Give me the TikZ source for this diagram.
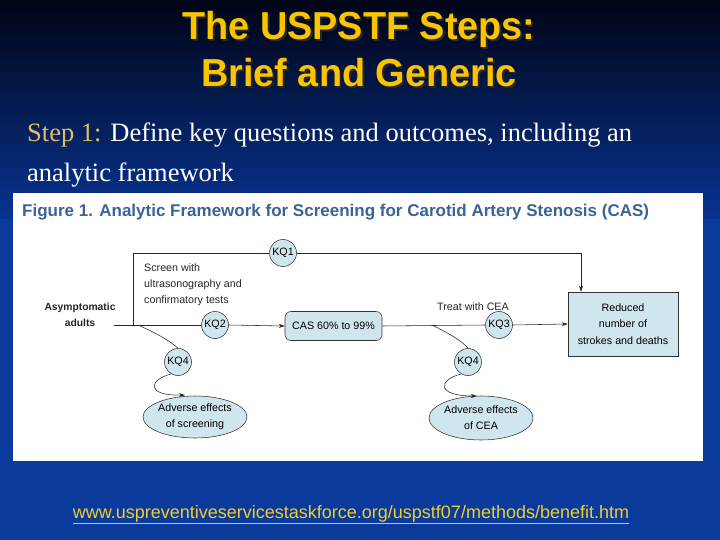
\documentclass[tikz,border=0pt]{standalone}
\usepackage{fontspec}
\setmainfont{Liberation Serif}
\newfontfamily\sansf{Liberation Sans}
\usetikzlibrary{shapes.geometric,arrows.meta}
\definecolor{bgtop}{RGB}{0,4,22}
\definecolor{bgmid}{RGB}{8,52,145}
\definecolor{bgbot}{RGB}{10,58,155}
\definecolor{titlegold}{RGB}{250,196,0}
\definecolor{stepgold}{RGB}{222,190,100}
\definecolor{figblue}{RGB}{58,100,150}
\definecolor{boxfill}{RGB}{208,230,238}
\definecolor{urlyel}{RGB}{240,206,40}
\newcommand{\shadowtext}[1]{\makebox[0pt][l]{\hspace{2pt}\raisebox{-2pt}{\textcolor{black!85}{#1}}}#1}
\tikzset{
  kq/.style={circle,draw=black!80,fill=boxfill,line width=0.55pt,minimum size=27pt,inner sep=0pt,font=\sansf\fontsize{10.7}{12}\selectfont},
  conn/.style={draw=black!85,line width=0.55pt},
  arr/.style={conn,-{Stealth[length=6pt,width=4pt]}},
  dtext/.style={font=\sansf\fontsize{10.7}{16}\selectfont,text=black!85,inner sep=0pt},
  bluebox/.style={draw=black!80,fill=boxfill,line width=0.55pt,inner sep=0pt,align=center,font=\sansf\fontsize{10.7}{16.5}\selectfont},
  titletext/.style={anchor=base,inner sep=0pt,font=\sansf\bfseries\fontsize{39}{42}\selectfont,text=titlegold,xscale=0.97},
  steptext/.style={anchor=base west,inner sep=0pt,font=\fontsize{26.5}{30}\selectfont,text=white},
}
\begin{document}
\begin{tikzpicture}[x=1pt,y=-1pt]
\useasboundingbox (0,0) rectangle (720,540);
% background
\shade[top color=bgtop,bottom color=bgmid] (0,0) rectangle (720,220);
\fill[bgbot] (0,219.5) rectangle (720,540);
% title
\node[titletext] (t1) at (359,40) {\shadowtext{The USPSTF Steps:}};
\node[titletext] (t2) at (359,87) {\shadowtext{Brief and Generic}};
% step 1
\node[steptext] (s1) at (27,142) {\textcolor{stepgold}{Step 1:} Define key questions and outcomes, including an};
\node[steptext] (s2) at (27,182) {analytic framework};
% white panel
\fill[white] (13,193) rectangle (703,461);
\node[anchor=base west,inner sep=0pt,font=\sansf\bfseries\fontsize{17}{20}\selectfont,text=figblue] (ft) at (22,217) {Figure 1. Analytic Framework for Screening for Carotid Artery Stenosis (CAS)};
% nodes
\node[dtext,align=center,font=\sansf\bfseries\fontsize{10.3}{16}\selectfont] (asym) at (80,315) {Asymptomatic\\adults};
\node[kq] (kq1) at (283,253) {KQ1};
\node[kq] (kq2) at (215,325) {KQ2};
\node[kq] (kq3) at (499,325) {KQ3};
\node[kq] (kq4a) at (178,362) {KQ4};
\node[kq] (kq4b) at (468,362) {KQ4};
\node[bluebox,rounded corners=6pt,minimum width=97pt,minimum height=29pt] (cas) at (333.5,326) {CAS 60\% to 99\%};
\node[bluebox,minimum width=110pt,minimum height=64pt] (red) at (623,324) {Reduced\\number of\\strokes and deaths};
\node[bluebox,ellipse,minimum width=104pt,minimum height=42pt,inner sep=0pt,font=\sansf\fontsize{10.7}{16}\selectfont] (adv1) at (195,417) {Adverse effects\\of screening};
\node[bluebox,ellipse,minimum width=104pt,minimum height=44pt,inner sep=0pt,font=\sansf\fontsize{10.7}{16}\selectfont] (adv2) at (481,418) {Adverse effects\\of CEA};
\node[dtext,anchor=north west,align=left] (scr) at (144,264) {Screen with\\ultrasonography and\\confirmatory tests};
\node[dtext] (treat) at (473,307) {Treat with CEA};
% connectors
\coordinate (start) at (114,325);
\coordinate (junc) at (133,325);
\coordinate (tl) at (133,253);
\coordinate (tr) at (581,253);
\coordinate (b1) at (138,325);
\coordinate (b2) at (432,325);
\draw[conn] (start) -- (kq2.west);
\draw[arr] (kq2.east) -- (cas.west);
\draw[conn] (junc) -- (tl) -- (kq1.west);
\draw[arr] (kq1.east) -- (tr) -- (tr |- red.north);
\draw[conn] (cas.east) -- (kq3.west);
\draw[arr] (kq3.east) -- (red.west);
\draw[conn] (b1) .. controls (158,334) and (170,341) .. (kq4a.north);
\draw[conn] (b2) .. controls (450,334) and (462,341) .. (kq4b.north);
\draw[arr] (kq4a.240) .. controls (148,380) and (146,396) .. (185,395);
\draw[arr] (kq4b.240) .. controls (438,380) and (436,396) .. (477,396);
% url
\node[anchor=base,inner sep=0pt,font=\sansf\fontsize{18}{20}\selectfont,text=urlyel] (url) at (351,518) {\underline{www.uspreventiveservicestaskforce.org/uspstf07/methods/benefit.htm}};
\end{tikzpicture}
\end{document}
